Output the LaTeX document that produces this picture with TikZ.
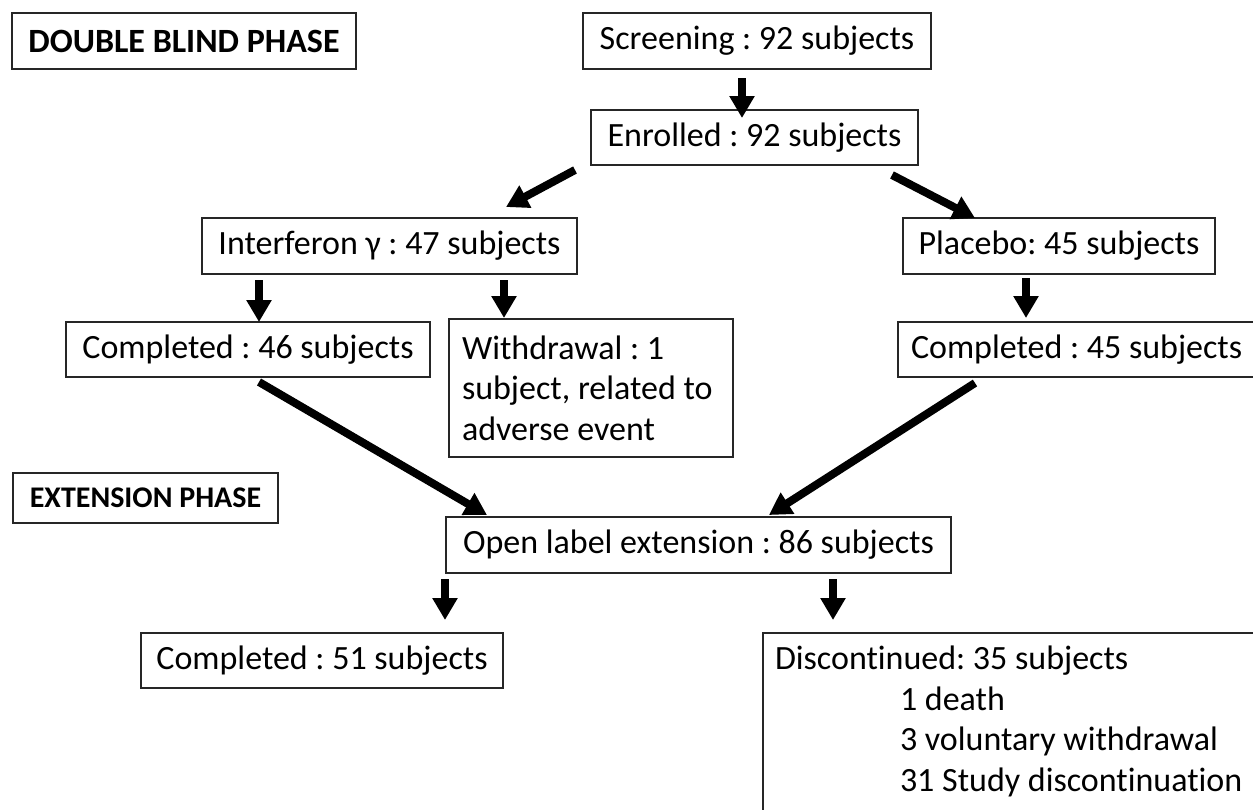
\documentclass[tikz,border=0pt]{standalone}
\usepackage{fontspec}
\setmainfont{Carlito}[Ligatures=NoCommon]
\frenchspacing
\usetikzlibrary{arrows.meta,calc}
\begin{document}
\begin{tikzpicture}[x=1pt,y=-1pt,
  box/.style={draw=black!85, line width=2.5pt, inner sep=0pt, outer sep=0pt,
    font=\fontsize{34}{40.5}\selectfont\frenchspacing, text=black},
  hdr/.style={box, font=\fontsize{34}{40}\selectfont\bfseries},
  arr/.style={line width=8pt, -{Triangle[length=22pt,width=24pt]}, black}]
\useasboundingbox (0,0) rectangle (1253,809);
\fill[white] (0,0) rectangle (1253,809);

\node[hdr, minimum width=344pt, minimum height=56pt] (dbp) at (184,41) {DOUBLE BLIND PHASE};
\node[hdr, minimum width=265pt, minimum height=50pt, font=\fontsize{30}{36}\selectfont\bfseries] (ext) at (145.5,498) {EXTENSION PHASE};

\node[box, minimum width=348pt, minimum height=56pt] (scr) at (757,41) {Screening : 92 subjects};
\node[box, minimum width=327pt, minimum height=55pt] (enr) at (754.5,137.5) {Enrolled : 92 subjects};
\node[box, minimum width=375pt, minimum height=56pt] (ifn) at (389.5,246) {Interferon γ : 47 subjects};
\node[box, minimum width=312pt, minimum height=56pt] (plc) at (1059,246) {Placebo: 45 subjects};
\node[box, minimum width=364pt, minimum height=55pt] (c46) at (248,349.5) {Completed : 46 subjects};
\node[box, minimum width=284pt, minimum height=138pt, text width=258pt, align=flush left] (wd) at (591,388)
  {Withdrawal : 1\\subject, related to\\adverse event};
\node[box, minimum width=392pt, minimum height=55pt, text width=366pt, align=flush left] (c45) at (1094,349.5) {Completed : 45 subjects};
\node[box, minimum width=505pt, minimum height=56pt] (ole) at (698.5,545) {Open label extension : 86 subjects};
\node[box, minimum width=362pt, minimum height=55pt] (c51) at (322,660.5) {Completed : 51 subjects};
\node[box, anchor=north west, inner xsep=12pt, inner ysep=13pt, text width=500pt, align=flush left] (dis) at (763,633)
  {Discontinued: 35 subjects\\
   \hspace*{125pt}1 death\\
   \hspace*{125pt}3 voluntary withdrawal\\
   \hspace*{125pt}31 Study discontinuation\\
   ~};

\draw[arr] ($(scr.south)+(-15,9)$) -- ($(enr.north)+(-12.5,8)$);
\draw[arr] ($(enr.south)+(-179.5,5)$) -- ($(ifn.north)+(116.5,-11)$);
\draw[arr] ($(enr.south)+(137.5,10)$) -- ($(plc.north)+(-84,0)$);
\draw[arr] ($(ifn.south)+(-130.5,6)$) -- ($(c46.north)+(11,0)$);
\draw[arr] ($(ifn.south)+(114.5,6)$) -- ($(wd.north)+(-87,-1)$);
\draw[arr] ($(plc.south)+(-33,4)$) -- ($(c45.north)+(-68,-4)$);
\draw[arr] ($(c46.south)+(11,5)$) -- ($(ole.north)+(-211.5,-2)$);
\draw[arr] ($(c45.south)+(-119,6)$) -- ($(ole.north)+(70.5,-2)$);
\draw[arr] ($(ole.south)+(-253.5,6)$) -- ($(c51.north)+(123,-13)$);
\draw[arr] ($(ole.south)+(134.5,6)$) -- ($(dis.north west)+(70,-13)$);
\end{tikzpicture}
\end{document}
